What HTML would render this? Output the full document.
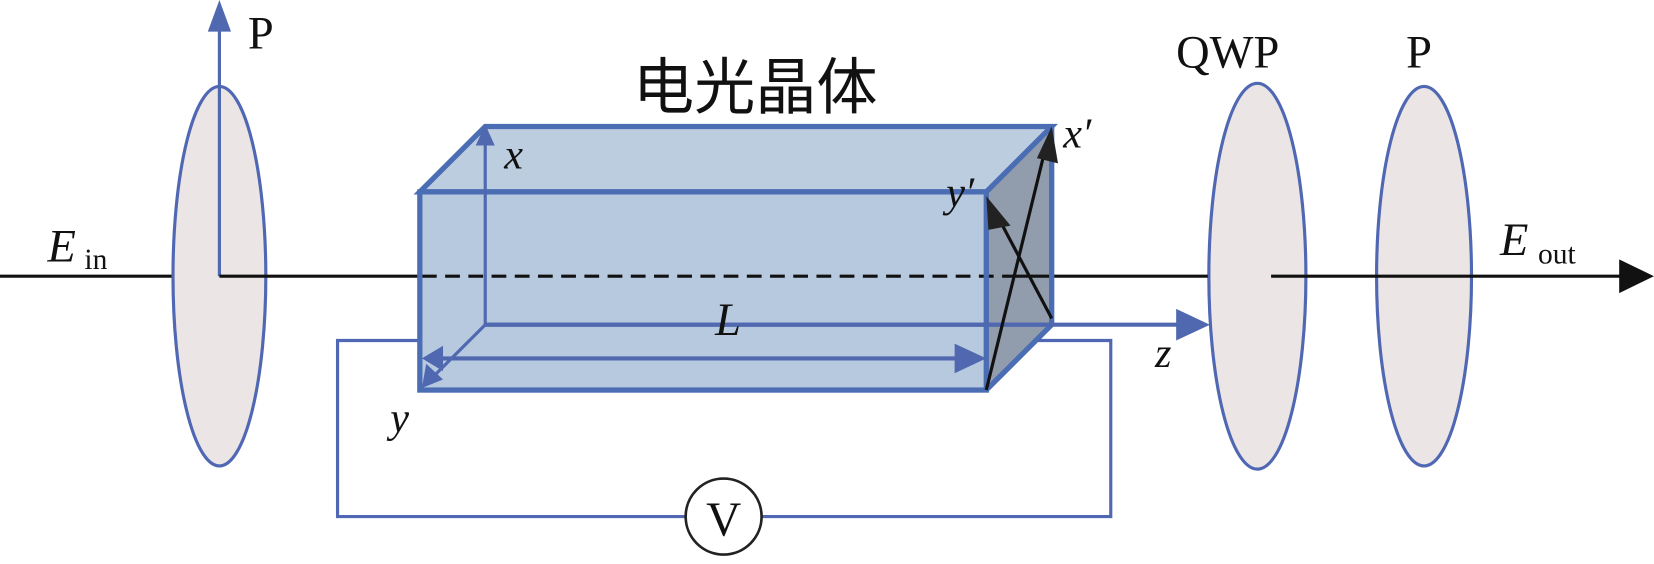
<!DOCTYPE html>
<html><head><meta charset="utf-8"><style>html,body{margin:0;padding:0;background:#fff}svg{display:block}</style></head>
<body>
<svg width="1654" height="564" viewBox="0 0 1568 535" preserveAspectRatio="none" xmlns="http://www.w3.org/2000/svg">
<line x1="0" y1="262" x2="170" y2="262" stroke="#111" stroke-width="3"/>
<ellipse cx="208" cy="262" rx="44" ry="180" fill="#ebe5e5" stroke="#5068b3" stroke-width="3"/>
<ellipse cx="1192" cy="262" rx="46" ry="183" fill="#ebe5e5" stroke="#5068b3" stroke-width="3"/>
<ellipse cx="1350" cy="262" rx="45" ry="180" fill="#ebe5e5" stroke="#5068b3" stroke-width="3"/>
<polyline points="398,323 320,323 320,490 1053,490 1053,323 955,323" fill="none" stroke="#5068b3" stroke-width="3"/>
<circle cx="686" cy="490" r="36" fill="#fff" stroke="#222" stroke-width="2.5"/>
<text x="686" y="508" font-family="Liberation Serif, serif" font-size="46" text-anchor="middle" fill="#111">V</text>
<line x1="208" y1="262" x2="208" y2="28" stroke="#4f68b0" stroke-width="3"/>
<path d="M197,30 L208,0 L219,30z" fill="#4f68b0"/>
<line x1="208" y1="262" x2="400" y2="262" stroke="#111" stroke-width="3"/>
<polygon points="398,182 460,120 997,120 935,182" fill="#bccde0"/>
<rect x="398" y="182" width="537" height="188" fill="#b7c9de"/>
<polygon points="935,182 997,120 997,308 935,370" fill="#919cad"/>
<line x1="400" y1="262" x2="950" y2="262" stroke="#111" stroke-width="3" stroke-dasharray="14,8"/>
<line x1="950" y1="262" x2="1145" y2="262" stroke="#111" stroke-width="3"/>
<line x1="1205" y1="262" x2="1540" y2="262" stroke="#111" stroke-width="3"/>
<path d="M1535,246 L1568,262 L1535,278z" fill="#111"/>
<g stroke="#4a6db3" stroke-width="5" fill="none">
<polygon points="398,182 460,120 997,120 935,182"/>
<rect x="398" y="182" width="537" height="188"/>
<polyline points="935,370 997,308 997,120"/>
<line x1="460" y1="308" x2="997" y2="308" stroke-width="4"/>
</g>
<line x1="460" y1="308" x2="460" y2="135" stroke="#4f68b0" stroke-width="3"/>
<path d="M451,138 L460,118 L469,138z" fill="#4f68b0"/>
<line x1="460" y1="308" x2="1125" y2="308" stroke="#4f68b0" stroke-width="4"/>
<path d="M1115,293 L1147,308 L1115,323z" fill="#4f68b0"/>
<line x1="460" y1="308" x2="408" y2="360" stroke="#4f68b0" stroke-width="3"/>
<path d="M400,368 L404,345 L420,360z" fill="#4f68b0"/>
<line x1="412" y1="340" x2="925" y2="340" stroke="#4f68b0" stroke-width="4"/>
<path d="M400,340 L420,328 L420,352z" fill="#4f68b0"/>
<path d="M935,340 L905,326 L905,354z" fill="#4f68b0"/>
<line x1="935" y1="370" x2="990" y2="145" stroke="#111" stroke-width="3"/>
<path d="M997,120 L1003,155 L983,150z" fill="#222"/>
<line x1="997" y1="302" x2="943" y2="200" stroke="#111" stroke-width="3"/>
<path d="M935,186 L958,214 L937,218z" fill="#222"/>
<g font-family="Liberation Serif, serif" fill="#111">
<text x="235" y="46" font-size="44">P</text>
<text x="1115" y="64" font-size="44">QWP</text>
<text x="1333" y="64" font-size="44">P</text>
<text x="45" y="248" font-size="44" font-style="italic">E</text>
<text x="80" y="255" font-size="28">in</text>
<text x="1422" y="242" font-size="44" font-style="italic">E</text>
<text x="1458" y="250" font-size="28">out</text>
<text x="478" y="160" font-size="40" font-style="italic">x</text>
<text x="370" y="410" font-size="40" font-style="italic">y</text>
<text x="1095" y="348" font-size="40" font-style="italic">z</text>
<text x="678" y="318" font-size="44" font-style="italic">L</text>
<text x="1008" y="140" font-size="40" font-style="italic">x′</text>
<text x="897" y="196" font-size="40" font-style="italic">y′</text>
</g>
<text x="600" y="103" font-family="Liberation Sans, 'Noto Sans CJK SC', sans-serif" font-size="58" fill="#111">电光晶体</text>
</svg>
</body></html>
